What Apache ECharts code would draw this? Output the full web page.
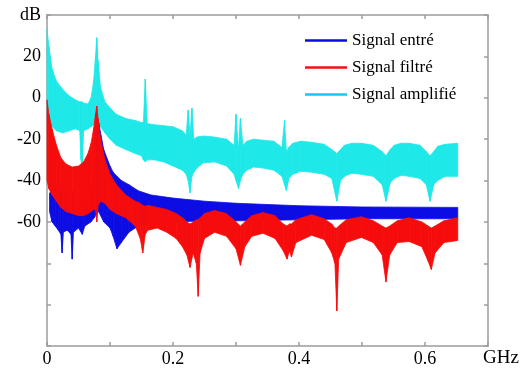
<!DOCTYPE html>
<html>
<head>
<meta charset="utf-8">
<script src="https://cdn.jsdelivr.net/npm/echarts@6/dist/echarts.min.js"></script>
<style>
  html, body { margin: 0; padding: 0; background: #fff; }
  #chart { width: 532px; height: 374px; }
</style>
</head>
<body>
<div id="chart"></div>
<script>
// axis ticks
const xTickValues = [0, 0.1, 0.2, 0.3, 0.4, 0.5, 0.6, 0.7];
const xTickLabels = ['0', '', '0.2', '', '0.4', '', '0.6', ''];
const yTickValues = [-120, -100, -80, -60, -40, -20, 0, 20, 40];
const yTickLabels = ['', '', '', '-60', '-40', '-20', '0', '20', 'dB'];

// Signal amplifié (cyan band): frequency in GHz, upper and lower envelope in dB
const ampX = [0, 0.003, 0.008, 0.015, 0.025, 0.035, 0.045, 0.052, 0.054, 0.056, 0.058, 0.065, 0.07, 0.074, 0.077, 0.079, 0.081, 0.085, 0.092, 0.1, 0.11, 0.125, 0.14, 0.15, 0.153, 0.156, 0.159, 0.17, 0.185, 0.2, 0.215, 0.221, 0.224, 0.227, 0.23, 0.233, 0.238, 0.248, 0.266, 0.285, 0.297, 0.3, 0.304, 0.307, 0.311, 0.317, 0.328, 0.343, 0.36, 0.373, 0.377, 0.38, 0.384, 0.39, 0.403, 0.42, 0.44, 0.452, 0.46, 0.466, 0.472, 0.484, 0.499, 0.518, 0.532, 0.538, 0.545, 0.551, 0.562, 0.575, 0.592, 0.602, 0.608, 0.614, 0.62, 0.632, 0.652];
const ampHi = [33, 25, 14, 8, 4, 1, -1, -2, -2, -2, -2.5, -3, 0, 8, 20, 29, 18, 5, -2, -5, -8, -10, -11, -12, -12, 9, -12.5, -13, -13.5, -14, -16, -18, -6, -18, -5, -20, -19, -18.5, -19, -20, -23, -8, -25, -10, -23, -21, -20, -20.5, -21, -24, -11, -26, -24, -22, -21, -21.5, -22.5, -25, -27, -25, -23, -22, -22, -23, -26, -28, -25, -23, -22, -22, -23, -26, -28, -26, -23.5, -22.5, -22];
const ampLo = [-10, -12, -14, -16, -17, -16, -15, -16, -30, -35, -16, -15, -14, -13, -12, -11, -12, -14, -17, -20, -23, -25, -27, -28, -30, -31, -30, -30, -31, -33, -35, -37, -40, -46, -38, -36, -34, -31.5, -31, -33, -37, -40, -44, -40, -37, -35, -33.5, -34, -35, -38, -42, -45, -39, -37, -35.5, -36, -37, -39, -50, -40, -38, -36.5, -37, -38, -42, -50, -41, -39, -37.5, -38, -39, -42, -50, -42, -40, -38, -38];

// Signal entré (blue band)
const inX = [0.004, 0.008, 0.013, 0.018, 0.022, 0.024, 0.026, 0.032, 0.038, 0.04, 0.042, 0.05, 0.056, 0.06, 0.07, 0.075, 0.079, 0.082, 0.09, 0.1, 0.105, 0.111, 0.118, 0.13, 0.145, 0.165, 0.2, 0.25, 0.3, 0.4, 0.5, 0.652];
const inHi = [-46, -45, -42, -42, -43, -43, -43, -44, -44, -45, -45, -46, -46, -46, -44, -35, -8, -12, -25, -33, -36, -38, -40, -42, -45, -47, -48.5, -50, -51, -52.2, -52.8, -53];
const inLo = [-55, -60, -62, -64, -66, -75, -65, -64, -66, -78, -65, -63, -66, -62, -60, -58, -56, -55, -60, -63, -67, -73, -70, -65, -62, -60.5, -60, -59.5, -59.5, -59, -58.5, -58.5];

// Signal filtré (red band)
const outX = [0, 0.003, 0.008, 0.015, 0.022, 0.03, 0.04, 0.05, 0.058, 0.065, 0.07, 0.074, 0.077, 0.079, 0.081, 0.085, 0.092, 0.1, 0.11, 0.125, 0.14, 0.148, 0.152, 0.156, 0.16, 0.175, 0.19, 0.205, 0.215, 0.222, 0.227, 0.232, 0.237, 0.24, 0.243, 0.25, 0.266, 0.285, 0.3, 0.307, 0.314, 0.325, 0.343, 0.362, 0.375, 0.381, 0.385, 0.388, 0.395, 0.42, 0.44, 0.452, 0.457, 0.46, 0.463, 0.475, 0.499, 0.518, 0.532, 0.538, 0.544, 0.556, 0.575, 0.595, 0.605, 0.61, 0.616, 0.63, 0.652];
const outHi = [-1, -8, -15, -23, -29, -32, -33.5, -33, -31, -27, -22, -15, -8, -4, -10, -20, -30, -37, -42, -47, -50, -51, -52, -52.5, -52, -53, -54, -56, -58, -60, -61, -60, -59, -59, -58, -56, -54.5, -56, -60, -62, -60, -57, -55.5, -57, -61, -62, -61, -61, -59, -56.5, -58.5, -61, -63, -63, -62, -59, -57.5, -59.5, -62, -63, -62, -59.5, -58, -60, -62, -63, -62, -59.5, -58];
const outLo = [-40, -44, -47, -50, -53, -55, -56, -57, -57, -56, -55, -54, -54, -60, -52, -50, -51, -54, -56, -58, -62, -68, -75, -66, -64, -63, -65, -68, -72, -76, -82, -75, -80, -96, -75, -68, -65, -67, -73, -81, -72, -67, -65.5, -68, -74, -78, -74, -77, -70, -66.5, -68.5, -75, -80, -103, -78, -70, -67.5, -70, -76, -89, -76, -70, -69.5, -72, -79, -83, -75, -70, -69];

const serif = '"Liberation Serif", "Times New Roman", serif';
const frameColor = '#9c9c9c';

// each band is drawn as quads between neighbouring samples of its upper and lower envelope
function band(name, xs, hi, lo, color, z) {
  return {
    name: name,
    type: 'custom',
    z: z,
    silent: true,
    itemStyle: { color: color },
    encode: { x: 0, y: [1, 2] },
    data: xs.map((x, i) => [x, hi[i], lo[i]]),
    renderItem: function (params, api) {
      const i = params.dataIndexInside;
      if (i >= params.dataInsideLength - 1) return;
      const j = i + 1;
      const p1 = api.coord([api.value(0, i), api.value(1, i)]);
      const p2 = api.coord([api.value(0, j), api.value(1, j)]);
      const p3 = api.coord([api.value(0, j), api.value(2, j)]);
      const p4 = api.coord([api.value(0, i), api.value(2, i)]);
      return {
        type: 'polygon',
        shape: { points: [p1, p2, p3, p4] },
        style: { fill: color, stroke: color, lineWidth: 0.8 }
      };
    }
  };
}

const xLabel = v => {
  const i = xTickValues.indexOf(Math.round(v * 10) / 10);
  return i < 0 ? '' : xTickLabels[i];
};
const yLabel = v => {
  const i = yTickValues.indexOf(v);
  return i < 0 ? '' : yTickLabels[i];
};

const frameAxis = {
  axisLine: { show: true, onZero: false, lineStyle: { color: frameColor, width: 1.5 } },
  axisTick: { show: true, inside: true, length: 4, lineStyle: { color: frameColor, width: 1.5 } },
  splitLine: { show: false }
};

const chart = echarts.init(document.getElementById('chart'));
chart.setOption({
  animation: false,
  backgroundColor: '#fff',
  grid: { left: 47, right: 44, top: 15, bottom: 28 },
  legend: {
    orient: 'vertical',
    left: 300,
    top: 27,
    itemWidth: 42,
    itemHeight: 2.5,
    itemGap: 10,
    icon: 'rect',
    textStyle: { fontFamily: serif, fontSize: 17, color: '#000' },
    data: [
      { name: 'Signal entré', itemStyle: { color: '#0a0ae6' } },
      { name: 'Signal filtré', itemStyle: { color: '#f41010' } },
      { name: 'Signal amplifié', itemStyle: { color: '#14c8f0' } }
    ]
  },
  xAxis: [
    Object.assign({}, frameAxis, {
      type: 'value', min: 0, max: 0.7, interval: 0.1,
      name: 'GHz', nameLocation: 'end', nameGap: -5,
      nameTextStyle: { fontFamily: serif, fontSize: 19, color: '#000', verticalAlign: 'top', padding: [3, 0, 0, 0] },
      axisLabel: { formatter: xLabel, fontFamily: serif, fontSize: 18, color: '#000', margin: 4 }
    }),
    Object.assign({}, frameAxis, {
      type: 'value', min: 0, max: 0.7, interval: 0.1, position: 'top',
      axisLabel: { show: false }
    })
  ],
  yAxis: [
    Object.assign({}, frameAxis, {
      type: 'value', min: -120, max: 40, interval: 20,
      axisLabel: { formatter: yLabel, fontFamily: serif, fontSize: 18, color: '#000', margin: 6 }
    }),
    Object.assign({}, frameAxis, {
      type: 'value', min: -120, max: 40, interval: 20, position: 'right',
      axisLabel: { show: false }
    })
  ],
  series: [
    band('Signal amplifié', ampX, ampHi, ampLo, '#1ee8e8', 2),
    band('Signal entré', inX, inHi, inLo, '#0c0ce4', 3),
    band('Signal filtré', outX, outHi, outLo, '#f60c0c', 4)
  ]
});
</script>
</body>
</html>
